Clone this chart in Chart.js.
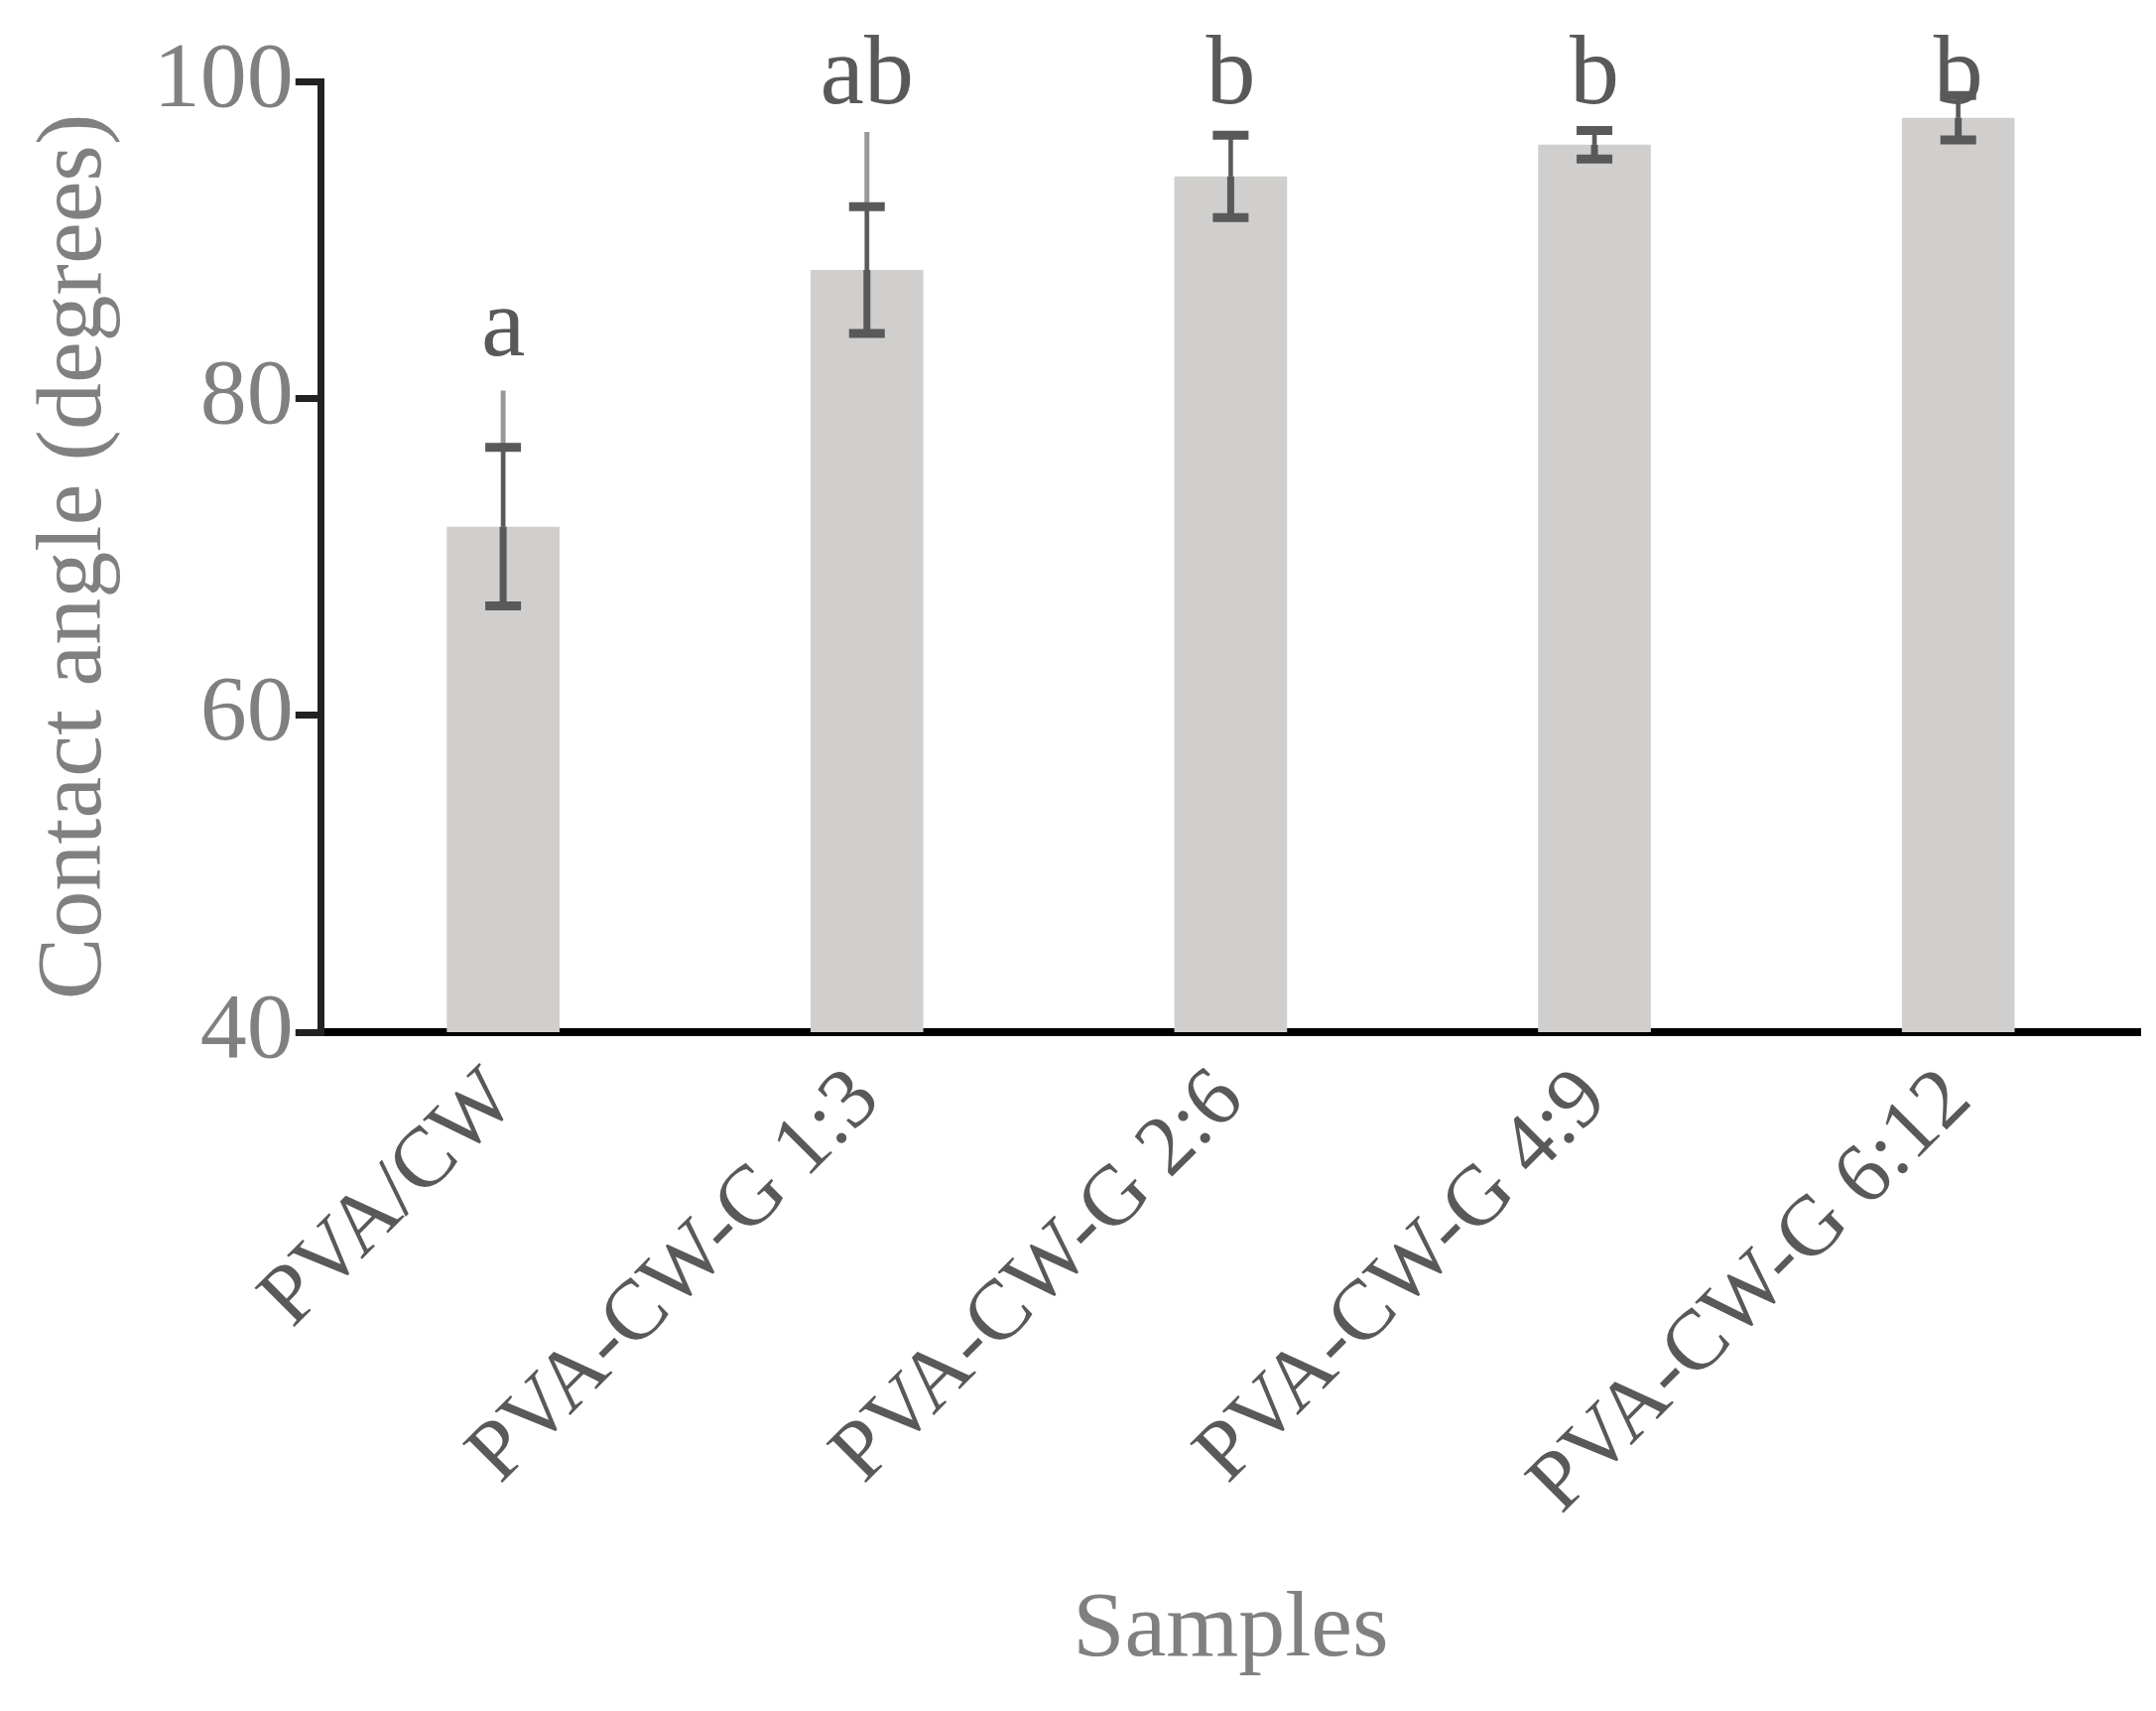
<!DOCTYPE html>
<html><head><meta charset="utf-8">
<script src="https://cdn.jsdelivr.net/npm/chart.js@4/dist/chart.umd.min.js"></script>
<style>html,body{margin:0;padding:0;background:#fff}#w{width:2173px;height:1724px}</style>
</head><body><div id="w"><canvas id="c"></canvas></div>
<script>
const categories = ["PVA/CW","PVA-CW-G 1:3","PVA-CW-G 2:6","PVA-CW-G 4:9","PVA-CW-G 6:12"];
const values = [71.9, 88.1, 94.0, 96.0, 97.7];
const errDark = [5.0, 4.0, 2.6, 0.9, 1.4];
const errLightTop = [80.5, 96.8, 96.8, 96.9, 98.6];
const letters = ["a","ab","b","b","b"];
const yTicks = [40,60,80,100];

const errPlugin = {
  id:'err',
  afterDatasetsDraw(chart){
    const ctx = chart.ctx, y = chart.scales.y;
    const meta = chart.getDatasetMeta(0);
    ctx.save();
    meta.data.forEach((bar,i)=>{
      const cx = bar.x;
      ctx.strokeStyle = '#999'; ctx.lineWidth = 5;
      ctx.beginPath(); ctx.moveTo(cx, y.getPixelForValue(values[i])); ctx.lineTo(cx, y.getPixelForValue(errLightTop[i])); ctx.stroke();
      const t = y.getPixelForValue(values[i]+errDark[i]), b = y.getPixelForValue(values[i]-errDark[i]);
      ctx.strokeStyle = '#595959'; ctx.lineWidth = 7;
      ctx.beginPath(); ctx.moveTo(cx, b); ctx.lineTo(cx, y.getPixelForValue(values[i])); ctx.stroke();
      ctx.lineWidth = 4;
      ctx.beginPath(); ctx.moveTo(cx, y.getPixelForValue(values[i])); ctx.lineTo(cx, t); ctx.stroke();
      ctx.lineWidth = 9;
      ctx.beginPath(); ctx.moveTo(cx-18, t); ctx.lineTo(cx+18, t); ctx.moveTo(cx-18, b); ctx.lineTo(cx+18, b); ctx.stroke();
      ctx.fillStyle = '#595959'; ctx.font = '100px "Liberation Serif"'; ctx.textAlign='center'; ctx.textBaseline='alphabetic';
      const top = Math.min(y.getPixelForValue(errLightTop[i]), t);
      ctx.fillText(letters[i], cx, Math.max(top - 35, 104));
    });
    ctx.restore();
  }
};

new Chart(document.getElementById('c'), {
  type:'bar',
  data:{labels:categories, datasets:[{data:values, backgroundColor:'#d0cfcd', categoryPercentage:1, barPercentage:0.31}]},
  options:{
    responsive:true, maintainAspectRatio:false, animation:false, devicePixelRatio:1,
    layout:{padding:{top:82,right:16,left:16,bottom:20}},
    plugins:{legend:{display:false}, tooltip:{enabled:false}},
    scales:{
      x:{grid:{display:false}, border:{display:true,color:'#000',width:8},
         ticks:{color:'#595959', font:{family:'Liberation Serif', size:86}, minRotation:45, maxRotation:45, padding:10},
         title:{display:true, text:'Samples', color:'#808080', font:{family:'Liberation Serif', size:94}, padding:{top:30}}},
      y:{min:40, max:100, afterBuildTicks(s){s.ticks = yTicks.map(v=>({value:v}));},
         grid:{drawOnChartArea:false, color:'#222', lineWidth:7, tickLength:26}, border:{color:'#222',width:7},
         ticks:{color:'#808080', font:{family:'Liberation Serif', size:94}, padding:2},
         title:{display:true, text:'Contact angle (degrees)', color:'#808080', font:{family:'Liberation Serif', size:94}, padding:{bottom:20}}}
    }
  },
  plugins:[errPlugin]
});
</script></body></html>
